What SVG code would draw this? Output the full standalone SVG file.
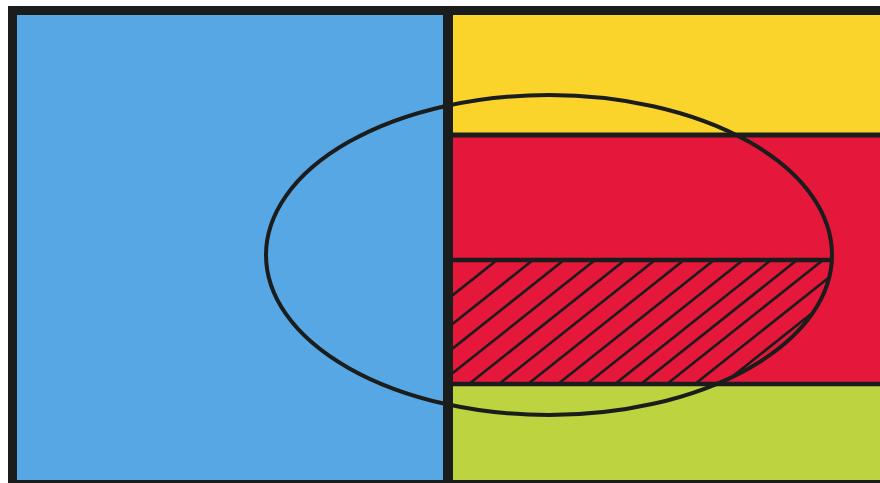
<svg xmlns="http://www.w3.org/2000/svg" width="880" height="483" viewBox="0 0 880 483">
  <style>
    .ink { stroke: #1b1d1c; fill: none; }
    .hatch line { stroke: #1b1d1c; stroke-width: 2.6; }
  </style>
  <defs>
    <clipPath id="hatchArea">
      <rect x="452" y="261" width="400" height="122"/>
    </clipPath>
    <clipPath id="ellArea">
      <ellipse cx="549" cy="255" rx="282" ry="159"/>
    </clipPath>
  </defs>
  <rect x="0" y="0" width="880" height="483" fill="#ffffff"/>
  <!-- regions -->
  <g id="blue"><rect x="16" y="14" width="432" height="470" fill="#58a7e5"/></g>
  <g id="yellow"><rect x="448" y="14" width="432" height="121" fill="#fad42b"/></g>
  <g id="red"><rect x="448" y="135" width="432" height="249" fill="#e5173b"/></g>
  <g id="green"><rect x="448" y="384" width="432" height="100" fill="#bdd33f"/></g>
  <!-- hatching -->
  <g id="hatching" clip-path="url(#hatchArea)">
    <g class="hatch" clip-path="url(#ellArea)">
      <line x1="497" y1="260" x2="341" y2="384"/>
      <line x1="533" y1="260" x2="377" y2="384"/>
      <line x1="564" y1="260" x2="408" y2="384"/>
      <line x1="595" y1="260" x2="439" y2="384"/>
      <line x1="625" y1="260" x2="469" y2="384"/>
      <line x1="655" y1="260" x2="499" y2="384"/>
      <line x1="684" y1="260" x2="528" y2="384"/>
      <line x1="714" y1="260" x2="558" y2="384"/>
      <line x1="743" y1="260" x2="587" y2="384"/>
      <line x1="771" y1="260" x2="615" y2="384"/>
      <line x1="797" y1="260" x2="641" y2="384"/>
      <line x1="823" y1="260" x2="667" y2="384"/>
      <line x1="851" y1="260" x2="695" y2="384"/>
      <line x1="879" y1="260" x2="723" y2="384"/>
    </g>
  </g>
  <!-- lines -->
  <g id="lines">
    <line class="ink" x1="448" y1="135" x2="880" y2="135" stroke-width="5"/>
    <line class="ink" x1="448" y1="260" x2="831" y2="260" stroke-width="4.5"/>
    <line class="ink" x1="448" y1="384" x2="880" y2="384" stroke-width="4.5"/>
    <line class="ink" x1="448" y1="10" x2="448" y2="483" stroke-width="10"/>
    <rect class="ink" x="12.5" y="10.5" width="880" height="474" stroke-width="9"/>
  </g>
  <g id="ellipse">
    <ellipse class="ink" cx="549" cy="255" rx="283" ry="160" stroke-width="4"/>
  </g>
</svg>
